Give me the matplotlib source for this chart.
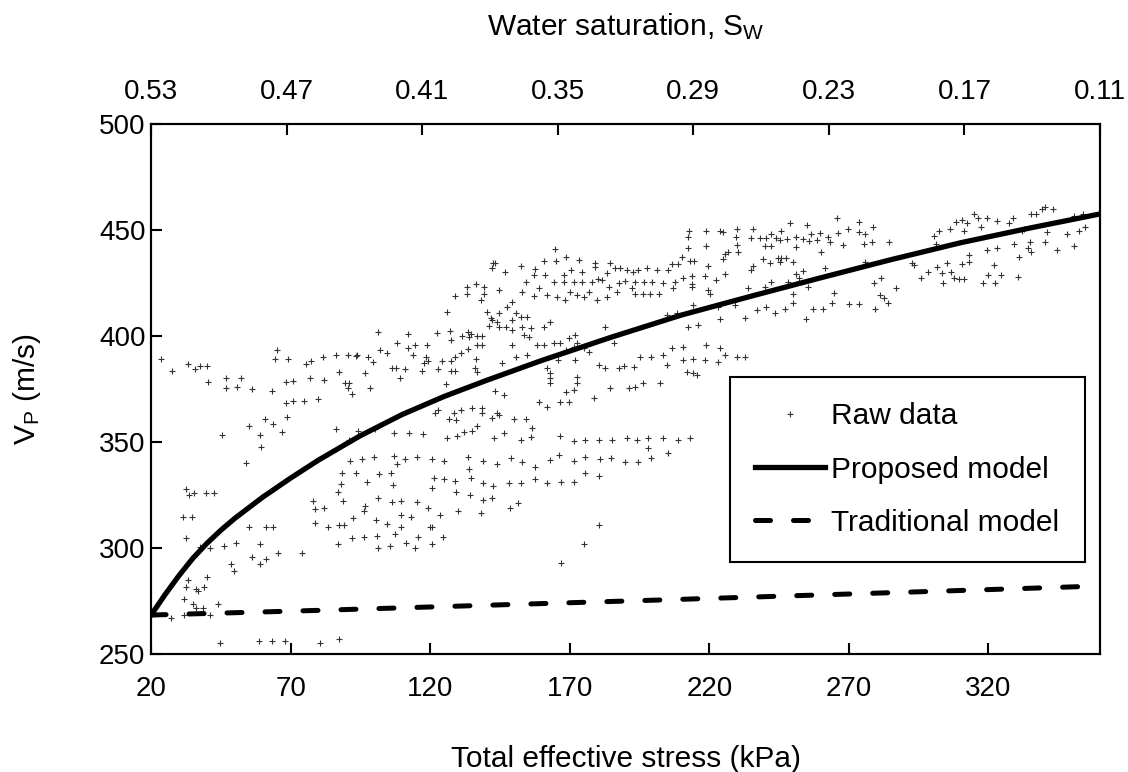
"""P-wave velocity versus total effective stress, with water saturation on the top axis."""

import matplotlib

matplotlib.use("Agg")
import matplotlib.pyplot as plt

plt.rcParams["font.family"] = ["Liberation Sans", "DejaVu Sans"]
plt.rcParams["mathtext.default"] = "regular"

raw_points = [
    (23.5, 389.0), (27.4, 383.5), (33.3, 386.7), (35.9, 384.3), (37.7, 385.8), (40.1, 385.8),
    (65.2, 393.4), (64.5, 389.2), (69.1, 389.2),
    (75.6, 386.6), (77.4, 388.3), (81.7, 390.0), (86.1, 390.9), (90.4, 390.9), (93.5, 390.6),
    (93.9, 390.9), (97.6, 390.0), (99.4, 387.6),
    (101.4, 401.7), (102.1, 393.4), (104.5, 391.8), (108.3, 396.8), (111.9, 400.8), (112.0, 394.2),
    (114.6, 395.6), (113.9, 390.9), (118.7, 395.6), (118.5, 390.2), (119.4, 388.4), (117.9, 387.4),
    (106.5, 385.0), (107.7, 385.0), (111.0, 384.3), (117.0, 383.7), (122.7, 384.3), (124.1, 388.4),
    (127.4, 383.7), (128.9, 383.7), (127.4, 388.4), (128.9, 390.0), (130.9, 391.9),
    (122.6, 401.6), (127.1, 402.4), (127.4, 398.1), (131.3, 400.0), (133.6, 401.9), (133.9, 399.7),
    (134.5, 400.8), (136.7, 400.2), (136.9, 395.6), (138.7, 395.6), (133.6, 394.0), (136.4, 389.2),
    (136.1, 384.7), (136.7, 382.9), (138.7, 400.0),
    (126.0, 411.5), (128.8, 419.0), (133.3, 423.0), (133.3, 419.8), (136.3, 424.7), (139.4, 423.3),
    (138.1, 417.0), (139.3, 419.7), (140.5, 411.2), (141.1, 404.9), (141.9, 408.4), (142.2, 407.5),
    (144.0, 406.7), (142.3, 432.1), (143.4, 434.6), (142.6, 434.6),
    (47.0, 380.0), (52.4, 380.0), (40.5, 378.2), (47.0, 375.3), (50.8, 375.8), (56.0, 375.0),
    (63.4, 374.2), (68.2, 378.2), (71.0, 379.0), (77.1, 380.0), (82.1, 379.2), (87.2, 383.2),
    (89.6, 377.7), (90.8, 377.7), (90.5, 375.3), (91.9, 372.6), (96.6, 382.4), (98.5, 375.3),
    (109.3, 380.0), (125.6, 377.4), (143.4, 374.2),
    (68.2, 368.5), (71.0, 369.4), (74.9, 369.4), (79.8, 370.2),
    (68.8, 361.7), (60.7, 360.9), (63.6, 358.5), (66.9, 354.9), (55.1, 357.7), (58.9, 353.3),
    (59.5, 347.5), (45.6, 353.3), (54.2, 340.2),
    (86.3, 356.0), (91.1, 351.1), (94.3, 355.2), (100.4, 356.0), (107.1, 354.4), (112.5, 354.4),
    (117.5, 353.6), (126.0, 351.7), (129.7, 353.0), (132.1, 354.6), (135.1, 355.3), (136.9, 357.7),
    (142.2, 361.2), (142.9, 351.7),
    (121.8, 363.5), (122.9, 365.3), (126.8, 360.9), (129.2, 360.4), (128.6, 363.5), (131.2, 365.3),
    (134.9, 365.9), (138.5, 365.9), (138.7, 363.5), (144.0, 363.5),
    (91.4, 341.2), (95.5, 342.0), (99.8, 342.8), (106.9, 343.6), (108.3, 339.6), (111.1, 342.0),
    (115.2, 342.8), (120.6, 342.0), (124.8, 341.2), (133.7, 342.8), (139.0, 341.2), (133.9, 337.1),
    (144.0, 339.6),
    (88.4, 335.5), (93.4, 335.5), (101.8, 334.8), (106.0, 335.2), (106.8, 329.7), (97.3, 331.3),
    (88.1, 330.1), (86.9, 326.3), (88.7, 322.2), (121.2, 333.2), (124.8, 332.7), (129.0, 331.6),
    (134.6, 333.2), (139.1, 330.8), (142.6, 329.2), (120.6, 328.5), (129.2, 326.6), (134.3, 325.0),
    (139.1, 322.6), (142.3, 323.5),
    (78.0, 322.2), (78.8, 318.3), (81.9, 319.0), (78.8, 311.9), (83.3, 310.0), (87.2, 310.8),
    (89.2, 310.8), (92.4, 314.0), (96.7, 319.8), (96.4, 317.5), (100.6, 313.2), (104.7, 311.3),
    (106.2, 321.6), (109.5, 322.2), (109.5, 315.6), (109.5, 310.0), (113.3, 314.8), (115.4, 321.6),
    (119.3, 319.0), (120.0, 310.0), (123.6, 315.6), (130.1, 317.5), (138.3, 316.4), (101.2, 323.8),
    (87.1, 301.9), (91.9, 304.8), (96.4, 305.3), (100.9, 305.8), (101.2, 300.2), (105.7, 301.0),
    (107.5, 306.6), (111.3, 302.5), (114.6, 300.2), (115.8, 305.1), (120.6, 309.8), (120.6, 301.9),
    (124.6, 305.1),
    (55.0, 310.0), (61.3, 310.0), (63.6, 310.0), (58.9, 301.7), (50.4, 302.5), (46.1, 301.0),
    (41.1, 299.9), (37.5, 300.4), (32.7, 304.9), (31.5, 314.8), (34.8, 314.8), (32.5, 327.7),
    (33.6, 324.9), (35.4, 326.1), (39.6, 326.1), (42.5, 326.1),
    (48.6, 292.5), (49.7, 289.3), (58.9, 292.3), (56.3, 295.6), (61.3, 294.8), (65.5, 297.5),
    (74.1, 297.5), (40.1, 286.5), (33.3, 285.1), (32.4, 281.5), (36.0, 280.5), (36.9, 279.9),
    (38.9, 281.8), (31.8, 275.8), (34.9, 273.4), (36.0, 271.6), (38.6, 271.9), (44.0, 273.4),
    (27.0, 266.8), (31.8, 268.4), (41.1, 268.4),
    (44.8, 255.3), (58.6, 256.1), (63.4, 256.1), (67.9, 256.1), (80.7, 255.3), (87.2, 256.9),
    (146.8, 430.3), (152.4, 433.0), (157.5, 431.4), (160.7, 435.5), (165.1, 435.5), (168.7, 437.1),
    (173.2, 436.1), (164.9, 440.9), (179.2, 434.6), (179.2, 432.7), (184.5, 434.6), (183.3, 429.9),
    (186.3, 432.2), (188.1, 432.2), (190.5, 431.1), (192.5, 430.3), (194.4, 431.1), (197.6, 432.2),
    (201.2, 431.1), (205.1, 431.1), (206.5, 433.8), (208.7, 433.9),
    (154.2, 425.6), (157.1, 428.8), (161.3, 428.8), (164.3, 425.6), (167.9, 428.8), (170.6, 431.1),
    (174.4, 430.3), (167.9, 425.6), (171.4, 425.6), (174.4, 425.6), (178.0, 425.6), (180.1, 426.7),
    (181.5, 426.4), (184.2, 423.3), (187.5, 424.8), (189.9, 426.1), (193.5, 425.6), (196.7, 425.6),
    (199.6, 425.6), (203.6, 424.8), (207.7, 425.6), (210.7, 427.2), (213.7, 428.3), (213.7, 424.5),
    (218.5, 428.3), (222.3, 426.4), (225.6, 429.1),
    (144.6, 421.7), (149.4, 416.2), (153.0, 420.9), (157.1, 418.9), (158.9, 422.5), (161.9, 419.3),
    (165.5, 418.5), (168.2, 417.0), (170.2, 420.9), (172.6, 419.3), (175.0, 418.5), (176.8, 420.9),
    (179.8, 417.0), (183.3, 418.5), (186.9, 420.9), (192.3, 422.5), (193.5, 419.8), (196.4, 419.8),
    (198.6, 419.8), (202.1, 419.8), (207.1, 422.5), (213.7, 423.3), (219.6, 421.7), (220.2, 419.8),
    (144.6, 410.7), (147.6, 413.8), (150.6, 410.7), (149.4, 407.5), (152.4, 409.1), (154.8, 409.1),
    (144.6, 404.4), (147.0, 404.4), (149.4, 402.8), (153.0, 404.4), (156.0, 403.6), (160.7, 404.4),
    (163.1, 406.7), (182.7, 404.4), (204.8, 409.9), (208.3, 410.7), (212.5, 404.4), (216.1, 405.2),
    (223.2, 413.8), (229.2, 414.6), (214.3, 414.6),
    (153.6, 400.5), (155.4, 399.7), (149.4, 395.7), (158.3, 395.7), (160.7, 395.7), (164.3, 396.5),
    (166.7, 396.5), (169.6, 398.9), (172.0, 400.5), (172.6, 396.5), (168.5, 393.4), (171.4, 394.9),
    (175.0, 394.2), (176.8, 392.6), (185.7, 396.5),
    (145.8, 387.1), (150.6, 390.2), (154.8, 391.0), (161.9, 384.7), (163.1, 382.4), (165.8, 388.7),
    (172.0, 388.7), (180.4, 386.3), (182.7, 384.7), (187.5, 384.7), (189.3, 385.8), (192.9, 385.5),
    (195.2, 390.2), (199.2, 390.2), (203.6, 391.0), (204.8, 386.3), (206.5, 394.2), (210.7, 394.9),
    (210.7, 388.7), (214.3, 389.4), (219.0, 395.7), (218.5, 388.7), (223.8, 394.2), (225.6, 391.0),
    (223.2, 387.9), (229.8, 390.2), (232.7, 390.2), (211.9, 383.2), (214.3, 382.4), (215.5, 381.6),
    (146.4, 372.2), (163.1, 380.0), (163.1, 377.7), (172.6, 380.8), (172.6, 378.0), (168.5, 373.7),
    (171.4, 374.5), (158.9, 369.0), (161.9, 366.6), (166.7, 369.0), (169.6, 369.0), (178.6, 370.6),
    (184.5, 375.3), (191.1, 375.3), (193.5, 376.1), (196.4, 377.7), (202.4, 377.7), (144.6, 362.7),
    (150.0, 361.1), (154.2, 361.1), (156.5, 356.4),
    (146.4, 354.1), (152.4, 351.2), (156.0, 352.2), (166.7, 352.8), (171.4, 350.6), (175.6, 350.9),
    (180.4, 351.2), (185.1, 351.2), (190.5, 351.7), (194.0, 351.2), (198.2, 351.7), (203.6, 351.7),
    (208.9, 351.2), (213.1, 351.7), (148.8, 342.3), (153.0, 340.7), (157.7, 338.4), (163.1, 341.5),
    (166.1, 343.9), (171.4, 341.2), (175.6, 343.1), (181.0, 341.8), (184.9, 342.3), (189.9, 340.7),
    (194.6, 340.7), (199.2, 342.3), (205.1, 344.6), (198.2, 347.0),
    (148.2, 330.5), (152.4, 330.5), (157.5, 332.4), (161.9, 330.5), (167.0, 331.3), (171.4, 331.3),
    (175.4, 335.2), (180.6, 333.9),
    (148.5, 319.0), (151.4, 321.4), (180.4, 310.8), (175.0, 301.9), (167.0, 292.8),
    (212.5, 441.4), (219.0, 442.5), (225.6, 438.7), (226.8, 439.8), (230.1, 442.9), (230.4, 439.8),
    (240.1, 442.5), (242.2, 442.5), (210.4, 437.4), (213.1, 435.5), (214.6, 435.5), (219.6, 433.0),
    (225.0, 436.2), (239.3, 436.2), (241.7, 434.3), (244.6, 436.7), (235.7, 433.0), (235.1, 431.1),
    (234.0, 422.5), (239.9, 423.3), (242.2, 425.7), (250.0, 415.7), (237.2, 412.3), (240.5, 413.5),
    (243.4, 410.7), (247.0, 412.6), (232.7, 408.4), (223.8, 407.9), (254.8, 407.9),
    (212.9, 449.7), (218.8, 449.7), (223.8, 449.7), (225.0, 448.9), (230.1, 450.5), (235.7, 450.5),
    (242.2, 448.1), (212.5, 446.9), (229.7, 446.9), (235.1, 446.4), (238.1, 446.4), (240.5, 446.4),
    (244.0, 446.4),
    (245.6, 449.7), (248.8, 453.2), (245.2, 445.3), (247.9, 445.6), (251.1, 446.6), (251.1, 442.2),
    (253.5, 445.6), (255.1, 452.4), (255.9, 445.0), (256.5, 448.1), (258.6, 445.3), (259.8, 448.8),
    (260.1, 439.8), (262.7, 446.6), (263.4, 444.5), (265.8, 455.5), (266.3, 448.8), (267.8, 442.9),
    (269.6, 450.3), (273.5, 453.8), (273.8, 449.2), (275.8, 448.1), (275.6, 443.4), (278.5, 451.6),
    (278.3, 444.5), (284.5, 444.5), (245.8, 436.7), (247.6, 436.7), (250.0, 435.1), (245.2, 435.1),
    (248.2, 425.6), (251.1, 429.3), (253.5, 430.8), (252.3, 427.2), (261.3, 431.9), (255.3, 423.0),
    (250.0, 419.8), (264.6, 420.5), (275.8, 435.1), (281.5, 427.2), (279.1, 424.9), (286.9, 422.5),
    (281.3, 419.4), (282.7, 417.8), (292.8, 434.6), (293.4, 433.5), (295.8, 427.2), (298.4, 430.4),
    (301.7, 432.4), (300.6, 447.2), (302.3, 449.7), (301.1, 443.4), (306.3, 450.3), (308.3, 454.0),
    (310.7, 454.7), (311.3, 449.7), (312.2, 453.5), (314.8, 457.4), (316.3, 455.5), (317.2, 451.3),
    (319.6, 455.5), (323.2, 454.4), (327.3, 453.2), (328.9, 455.5), (303.5, 429.9), (306.7, 430.4),
    (305.3, 434.3), (303.9, 424.9), (307.7, 427.2), (309.5, 426.7), (311.3, 426.7), (310.7, 434.0),
    (313.1, 435.1), (313.1, 438.2), (318.2, 424.9), (322.2, 424.9), (319.8, 428.8), (324.4, 428.8),
    (322.0, 433.5), (319.6, 440.6), (323.2, 441.4), (329.1, 443.4), (330.6, 427.7), (330.9, 437.4),
    (334.1, 441.4), (334.8, 444.5), (335.1, 439.8), (340.4, 444.5), (341.0, 449.2), (344.6, 440.6),
    (348.2, 448.1), (350.6, 442.5), (352.3, 449.7), (354.7, 451.6), (335.1, 457.4), (336.9, 457.4),
    (339.2, 459.8), (340.4, 460.7), (343.2, 459.8), (350.6, 456.8), (353.9, 457.4), (332.1, 449.7),
    (332.7, 450.3),
    (257.1, 412.6), (260.7, 412.6), (263.9, 415.7), (270.2, 414.9), (273.8, 414.9), (279.2, 412.6),
    (284.2, 415.7),
]

# proposed model curve
model_stress = [20, 22, 25, 30, 35, 40, 45, 50, 60, 70, 80, 95, 110, 125, 140, 160, 185, 210,
                235, 260, 285, 310, 335, 360]
model_vp = [268.4, 272.2, 278.0, 287.0, 295.2, 302.2, 308.4, 314.0, 324.0, 333.0, 341.5, 353.0,
            363.0, 371.5, 379.0, 388.5, 399.5, 409.9, 418.8, 427.5, 436.0, 444.0, 451.0, 457.6]

# traditional model line
trad_stress = [20, 80, 140, 200, 260, 320, 360]
trad_vp = [268.4, 270.6, 273.0, 275.4, 277.9, 280.4, 282.1]

stress_ticks = [20, 70, 120, 170, 220, 270, 320]
vp_ticks = [250, 300, 350, 400, 450, 500]
sw_ticks = [0.53, 0.47, 0.41, 0.35, 0.29, 0.23, 0.17, 0.11]

FS = 20        # tick labels
FS_LAB = 21.5  # axis titles and legend

fig = plt.figure(figsize=(11.28, 7.72), dpi=100)
ax = fig.add_axes([0.1339, 0.1528, 0.8413, 0.6865])

raw_x = [p[0] for p in raw_points]
raw_y = [p[1] for p in raw_points]
ax.plot(raw_x, raw_y, linestyle="none", marker="+", markersize=4.8,
        markeredgewidth=0.8, color="#333333", label="Raw data")
ax.plot(model_stress, model_vp, color="black", linewidth=3.8, label="Proposed model")
ax.plot(trad_stress, trad_vp, color="black", linewidth=3.6, dashes=(3.0, 4.6),
        dash_capstyle="round", label="Traditional model")

ax.set_xlim(20, 360)
ax.set_ylim(250, 500)
ax.set_xticks(stress_ticks)
ax.set_yticks(vp_ticks)
ax.tick_params(axis="x", direction="in", length=8, width=1.5, pad=16, labelsize=FS)
ax.tick_params(axis="y", direction="in", length=8, width=1.5, pad=4, labelsize=FS)
for spine in ax.spines.values():
    spine.set_linewidth(1.5)

ax.set_xlabel("Total effective stress (kPa)", fontsize=FS_LAB, labelpad=31)
ax.set_ylabel(r"V$_{P}$ (m/s)", fontsize=FS_LAB, labelpad=40)

ax2 = ax.twiny()
ax2.set_xlim(0.53, 0.11)
ax2.set_xticks(sw_ticks)
ax2.set_xticklabels([f"{v:.2f}" for v in sw_ticks])
ax2.tick_params(axis="x", direction="in", length=8, width=1.5, pad=14, labelsize=FS)
ax2.set_xlabel(r"Water saturation, S$_{W}$", fontsize=FS_LAB, labelpad=31)
for spine in ax2.spines.values():
    spine.set_linewidth(1.5)

leg = ax.legend(loc="upper left", bbox_to_anchor=(0.610, 0.5226), borderaxespad=0,
                fontsize=FS_LAB, frameon=True, fancybox=False, framealpha=1,
                edgecolor="black", borderpad=0.85, labelspacing=0.84, handlelength=2.34,
                handletextpad=0.2)
leg.get_frame().set_linewidth(1.5)

fig.savefig("out.png", dpi=100)
plt.close(fig)
